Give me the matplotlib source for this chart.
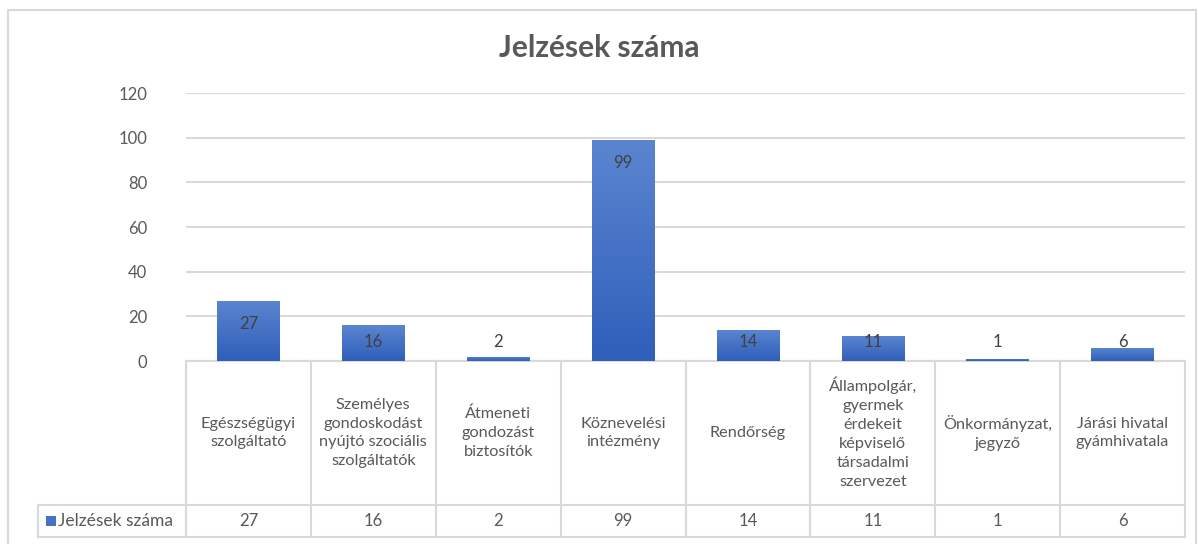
import numpy as np
import matplotlib
matplotlib.use('Agg')
import matplotlib.pyplot as plt
from matplotlib.patches import Rectangle
from matplotlib.colors import LinearSegmentedColormap
from matplotlib.transforms import blended_transform_factory

categories = ['Egészségügyi\nszolgáltató',
              'Személyes\ngondoskodást\nnyújtó szociális\nszolgáltatók',
              'Átmeneti\ngondozást\nbiztosítók',
              'Köznevelési\nintézmény',
              'Rendőrség',
              'Állampolgár,\ngyermek\nérdekeit\nképviselő\ntársadalmi\nszervezet',
              'Önkormányzat,\njegyző',
              'Járási hivatal\ngyámhivatala']
values = [27, 16, 2, 99, 14, 11, 1, 6]
series_name = 'Jelzések száma'
yticks = [0, 20, 40, 60, 80, 100, 120]

plt.rcParams['font.family'] = ['Lato', 'DejaVu Sans']
W, H = 1198, 544
fig = plt.figure(figsize=(W/100, H/100), dpi=100)
grid = '#D9D9D9'
txt = '#595959'

def fy(p):
	return 1 - p/H

def fx(p):
	return p/W

# outer frame
fig.patches.append(Rectangle((fx(8), fy(560)), fx(1196-8), fy(10)-fy(560), transform=fig.transFigure,
	fill=False, edgecolor=grid, lw=1.5))

fig.text(0.5, fy(48), series_name, ha='center', va='center', fontsize=21.5, fontweight='bold', color=txt)

ax = fig.add_axes([fx(186), fy(361), fx(1185-186), fy(93)-fy(361)])
n = len(values)
ax.set_xticks([])
for s in ax.spines.values():
	s.set_visible(False)
ax.set_yticks(yticks)
ax.tick_params(axis='y', length=0, labelsize=12, labelcolor=txt, pad=28)
ax.yaxis.grid(True, color=grid, lw=1.5)
ax.set_axisbelow(True)

bars = ax.bar(range(n), values, width=0.5, color='#4472C4', zorder=2)
grad = np.linspace(0, 1, 100).reshape(-1, 1)
cmap = LinearSegmentedColormap.from_list('g', ['#2F5FBA', '#5B85D0'])
for b in bars:
	x0, w, h = b.get_x(), b.get_width(), b.get_height()
	im = ax.imshow(grad, extent=[x0, x0+w, 0, h], origin='lower', aspect='auto', cmap=cmap, zorder=2.1)
	im.set_clip_path(b)
for i, v in enumerate(values):
	ax.text(i, max(v-10.5, 8.5), str(v), ha='center', va='center', fontsize=12, color='#404040', zorder=3)
ax.set_xlim(-0.5, n-0.5)
ax.set_ylim(0, 120)

# data table below the axis
tr = blended_transform_factory(ax.transData, fig.transFigure)
y_top, y_mid, y_bot = fy(361), fy(505), fy(537)
ax.plot([-0.5, n-0.5], [y_top, y_top], transform=tr, color=grid, lw=1.5, clip_on=False)
for yy in (y_mid, y_bot):
	fig.add_artist(plt.Line2D([fx(38), fx(1185)], [yy, yy], color=grid, lw=1.5, transform=fig.transFigure))
for k in range(n+1):
	ax.plot([k-0.5, k-0.5], [y_top, y_bot], transform=tr, color=grid, lw=1.5, clip_on=False)
fig.add_artist(plt.Line2D([fx(38), fx(38)], [y_mid, y_bot], color=grid, lw=1.5, transform=fig.transFigure))
for i, c in enumerate(categories):
	ax.text(i, (y_top+y_mid)/2, c, transform=tr, ha='center', va='center', fontsize=11.7,
		color=txt, linespacing=1.45, clip_on=False)
	ax.text(i, (y_mid+y_bot)/2, str(values[i]), transform=tr, ha='center', va='center', fontsize=12,
		color=txt, clip_on=False)
fig.patches.append(Rectangle((fx(46), fy(526)), fx(10), fy(516)-fy(526), transform=fig.transFigure,
	facecolor='#4472C4', edgecolor='none'))
fig.text(fx(58), (y_mid+y_bot)/2, series_name, ha='left', va='center', fontsize=12.5, color=txt)

fig.savefig('out.png', dpi=100)
